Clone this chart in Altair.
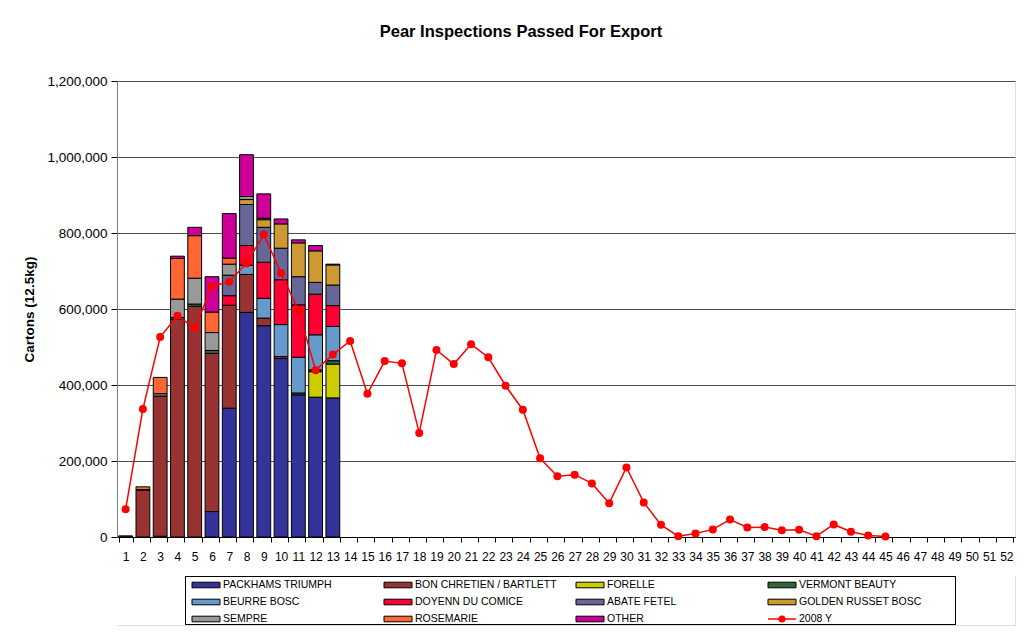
import altair as alt
import pandas as pd

# ---------------- data ----------------
weeks = list(range(1, 53))
bar_weeks = list(range(1, 14))

varieties = ["PACKHAMS TRIUMPH", "BON CHRETIEN / BARTLETT", "FORELLE", "VERMONT BEAUTY",
             "BEURRE BOSC", "DOYENN DU COMICE", "ABATE FETEL", "GOLDEN RUSSET BOSC",
             "SEMPRE", "ROSEMARIE", "OTHER"]
colors = ["#333399", "#993333", "#CCCC00", "#336633",
          "#6699CC", "#FF0033", "#666699", "#CC9933",
          "#999999", "#FF6633", "#CC0099"]

packhams  = [3000, 0, 2000, 0, 0, 67000, 339000, 591000, 556000, 470000, 374000, 368000, 366000]
bartlett  = [0, 123000, 369000, 573000, 607000, 416000, 271000, 100000, 20000, 5000, 0, 0, 0]
forelle   = [0, 0, 0, 0, 0, 0, 0, 0, 0, 0, 0, 67000, 89000]
vermont   = [0, 2000, 0, 5000, 6000, 8000, 0, 0, 0, 0, 5000, 5000, 9000]
bosc      = [0, 0, 0, 0, 0, 0, 0, 24000, 52000, 84000, 94000, 92000, 90000]
comice    = [0, 0, 0, 0, 0, 0, 25000, 52000, 95000, 118000, 138000, 107000, 55000]
abate     = [0, 0, 0, 0, 0, 0, 54000, 108000, 92000, 83000, 74000, 31000, 54000]
golden    = [0, 0, 0, 0, 0, 0, 0, 13000, 20000, 64000, 89000, 83000, 53000]
sempre    = [0, 0, 6000, 48000, 68000, 47000, 29000, 8000, 4000, 0, 0, 0, 0]
rosemarie = [0, 7000, 43000, 107000, 112000, 54000, 16000, 0, 0, 0, 0, 0, 0]
other     = [0, 0, 0, 6000, 22000, 93000, 117000, 110000, 64000, 13000, 8000, 14000, 2000]

series = [packhams, bartlett, forelle, vermont, bosc, comice, abate, golden, sempre, rosemarie, other]

line_weeks = list(range(1, 46))
y2008 = [73000, 337000, 526000, 582000, 550000, 660000, 672000, 720000, 796000, 695000,
         597000, 439000, 480000, 516000, 377000, 463000, 457000, 274000, 492000, 455000,
         507000, 473000, 398000, 335000, 207000, 160000, 164000, 141000, 89000, 183000,
         91000, 32000, 2000, 9000, 20000, 46000, 25000, 26000, 18000, 19000,
         2000, 33000, 14000, 4000, 1000]

y_ticks = [0, 200000, 400000, 600000, 800000, 1000000, 1200000]
line_label = "2008 Y"
line_color = "#FF0000"

# ---------------- frames ----------------
rows = []
for idx, (name, vals) in enumerate(zip(varieties, series)):
    for w, v in zip(bar_weeks, vals):
        if v > 0:
            rows.append({"week": w, "variety": name, "idx": idx, "cartons": v})
bars_df = pd.DataFrame(rows)
line_df = pd.DataFrame({"week": line_weeks, "cartons": y2008})

legend_names = varieties + [line_label]
legend_df = pd.DataFrame({
    "name": legend_names,
    "col": [i % 4 for i in range(len(legend_names))],
    "row": [i // 4 for i in range(len(legend_names))],
})

FONT = "Liberation Sans"
PW, PH = 898, 456

x_enc = alt.X("week:O",
              scale=alt.Scale(domain=weeks, paddingInner=0.2, paddingOuter=0.1),
              axis=alt.Axis(title=None, labelAngle=0, tickBand="extent", grid=False,
                            labelFontSize=12, labelFont=FONT, labelColor="#000000",
                            domainColor="#000000", tickColor="#000000", tickSize=5,
                            labelPadding=9))
y_scale = alt.Scale(domain=[0, 1200000])
y_axis = alt.Axis(title="Cartons (12.5kg)", values=y_ticks, format=",.0f",
                  titleFont=FONT, titleFontSize=13.5, titleFontWeight="bold",
                  titleColor="#000000", titlePadding=10,
                  labelFont=FONT, labelFontSize=13.5, labelColor="#000000",
                  domainColor="#808080", tickColor="#000000", tickSize=6, labelPadding=4,
                  grid=True, gridColor="#4d4d4d", gridWidth=1)

bars = alt.Chart(bars_df).mark_bar(stroke="#000000", strokeWidth=1).encode(
    x=x_enc,
    y=alt.Y("cartons:Q", stack="zero", scale=y_scale, axis=y_axis),
    color=alt.Color("variety:N", scale=alt.Scale(domain=varieties, range=colors), legend=None),
    order=alt.Order("idx:Q", sort="ascending"),
)

line = alt.Chart(line_df).mark_line(color=line_color, strokeWidth=1.5).encode(
    x=alt.X("week:O"),
    y=alt.Y("cartons:Q"),
)
dots = alt.Chart(line_df).mark_circle(color=line_color, opacity=1, size=64).encode(
    x=alt.X("week:O"),
    y=alt.Y("cartons:Q"),
)

main = alt.layer(bars, line, dots).properties(width=PW, height=PH)

# ---------------- legend ----------------
LH = 49
lx = alt.X("col:Q", scale=alt.Scale(domain=[0, 4], range=[75, 843]), axis=None)
ly = alt.Y("row:Q", scale=alt.Scale(domain=[0, 2], range=[9, 43]), axis=None)

cover = alt.Chart(legend_df).mark_rect(fill="#FFFFFF", strokeWidth=0).encode(
    x=alt.value(0), x2=alt.value(PW), y=alt.value(0), y2=alt.value(LH)
)
box = alt.Chart(legend_df).mark_rect(fill="#FFFFFF", stroke="#000000", strokeWidth=1).encode(
    x=alt.value(68.5), x2=alt.value(838.5), y=alt.value(0.5), y2=alt.value(LH - 0.5)
)
swatch = alt.Chart(legend_df).transform_filter(
    alt.datum.name != line_label
).mark_point(shape="M-1,-0.2H1V0.2H-1Z", size=784, filled=True, opacity=1,
             stroke="#000000", strokeWidth=1, xOffset=14).encode(
    x=lx, y=ly,
    fill=alt.Fill("name:N", scale=alt.Scale(domain=varieties, range=colors), legend=None),
)
lline = alt.Chart(legend_df).transform_filter(
    alt.datum.name == line_label
).mark_point(shape="M-1,0H1", size=784, filled=False, opacity=1,
             stroke=line_color, strokeWidth=1.5, xOffset=14).encode(x=lx, y=ly)
ldot = alt.Chart(legend_df).transform_filter(
    alt.datum.name == line_label
).mark_circle(color=line_color, opacity=1, size=50, xOffset=14).encode(x=lx, y=ly)
ltext = alt.Chart(legend_df).mark_text(align="left", baseline="middle", dx=31,
                                       font=FONT, fontSize=10.5, color="#000000").encode(
    x=lx, y=ly, text="name:N")

legend = alt.layer(cover, box, swatch, lline, ldot, ltext).properties(width=PW, height=LH)

chart = alt.vconcat(main, legend, spacing=12).properties(
    title=alt.TitleParams("Pear Inspections Passed For Export", font=FONT, fontSize=16.5,
                          fontWeight="bold", color="#000000", anchor="middle", offset=33,
                          dx=2),
    padding={"left": 14, "top": 16, "right": 0, "bottom": 0},
).configure_view(strokeWidth=0, fill="#FFFFFF").configure(background="#FFFFFF")

chart.save("out.html", embed_options={"renderer": "svg", "actions": False})
